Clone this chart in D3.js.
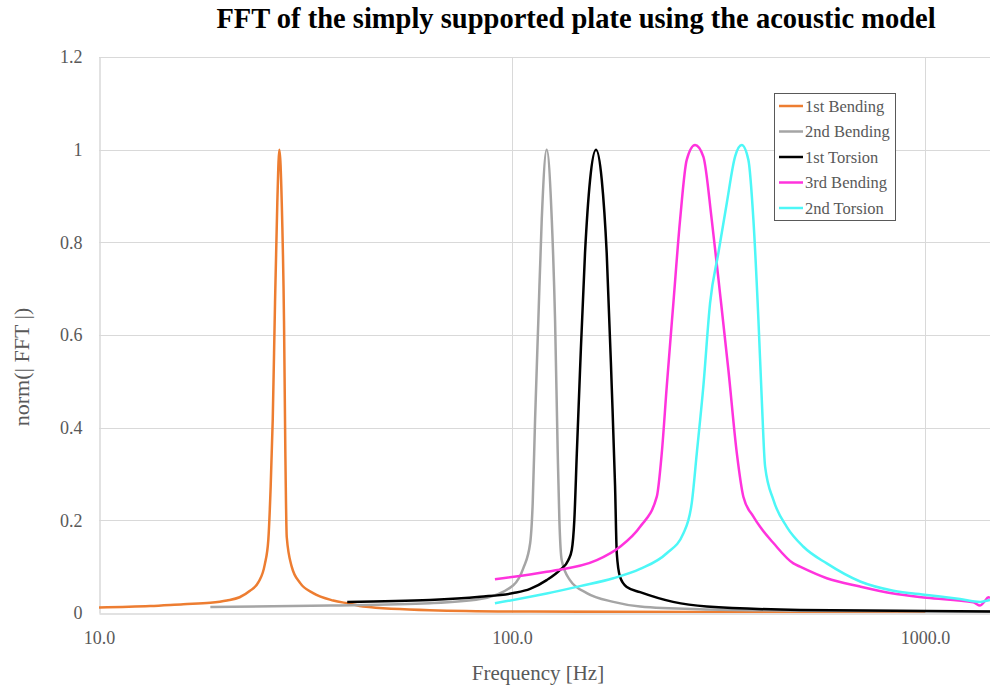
<!DOCTYPE html>
<html>
<head>
<meta charset="utf-8">
<script src="https://cdn.jsdelivr.net/npm/d3@7"></script>
<style>
  html, body { margin: 0; padding: 0; background: #fff; }
  svg { display: block; font-family: "Liberation Serif", "Times New Roman", serif; }
</style>
</head>
<body>
<div id="chart"></div>
<script>
// series: [frequency Hz, norm(|FFT|)]
var bending1 = [
  [10, 0.012], [13.3, 0.015], [16.0, 0.019], [18.6, 0.022], [20.4, 0.027],
  [21.9, 0.034], [23.2, 0.048], [24.3, 0.066], [25.2, 0.105], [25.7, 0.158],
  [26.04, 0.273], [26.34, 0.417], [26.68, 0.67], [27.02, 0.885], [27.33, 1.0],
  [27.7, 0.885], [28.05, 0.63], [28.26, 0.345], [28.48, 0.164], [29.28, 0.1],
  [30.67, 0.065], [33.0, 0.043], [36.9, 0.027], [40.5, 0.02], [43.6, 0.014],
  [63.3, 0.006], [110.6, 0.003], [285, 0.002], [1000, 0.001]
];
var bending2 = [
  [18.6, 0.013], [36.3, 0.016], [63.3, 0.021], [83.7, 0.03], [100.7, 0.06],
  [106.5, 0.097], [110.6, 0.15], [112.2, 0.237], [113.7, 0.417], [115.8, 0.633],
  [118.0, 0.849], [121.3, 1.0], [124.8, 0.849], [127.1, 0.633], [129.0, 0.345],
  [130.2, 0.2], [131.9, 0.114], [138.1, 0.071], [151.7, 0.043], [175.9, 0.024],
  [204.2, 0.014], [285.2, 0.008], [498, 0.005], [1436, 0.003]
];
var torsion1 = [
  [39.9, 0.024], [63.3, 0.028], [83.7, 0.035], [100.7, 0.043], [110.6, 0.052],
  [121.3, 0.071], [130.7, 0.093], [136.8, 0.114], [139.5, 0.136], [141.5, 0.2],
  [143.5, 0.345], [146.1, 0.525], [150.2, 0.777], [154.5, 0.935], [159.7, 1.0],
  [164.9, 0.935], [169.5, 0.777], [174.3, 0.49], [177.6, 0.273], [179.3, 0.129],
  [182.6, 0.078], [189.6, 0.056], [204.2, 0.045], [245.4, 0.024], [296, 0.014],
  [498, 0.0065], [1436, 0.003]
];
var bending3 = [
  [90.9, 0.073], [121.3, 0.089], [160.4, 0.114], [182.6, 0.143], [204.2, 0.186],
  [224.1, 0.251], [230.4, 0.345], [236.9, 0.489], [245.8, 0.669], [255.2, 0.849],
  [264.8, 0.978], [277.4, 1.01], [290.5, 0.985], [304.4, 0.849], [318.8, 0.69],
  [334.0, 0.525], [350.1, 0.345], [363.1, 0.251], [384.0, 0.208], [398.6, 0.186],
  [429.3, 0.151], [479.9, 0.107], [498, 0.1], [578.1, 0.075], [696.2, 0.057],
  [837.9, 0.042], [1009.5, 0.033], [1309, 0.023], [1359, 0.016], [1390, 0.024],
  [1423, 0.034], [1436, 0.032]
];
var torsion2 = [
  [90.9, 0.021], [121.3, 0.042], [146.1, 0.058], [175.9, 0.075], [204.2, 0.095],
  [236.9, 0.129], [260.0, 0.172], [272.3, 0.237], [280.1, 0.345], [290.5, 0.489],
  [301.6, 0.669], [315.9, 0.777], [331.1, 0.885], [346.7, 0.985], [359.8, 1.01],
  [373.4, 0.978], [384.0, 0.849], [394.9, 0.633], [402.4, 0.46], [409.9, 0.316],
  [429.3, 0.244], [462.5, 0.186], [507.5, 0.143], [578.1, 0.107], [696.2, 0.068],
  [837.9, 0.048], [1009.5, 0.039], [1215, 0.030], [1359, 0.024], [1436, 0.028]
];

var seriesNames = ["1st Bending", "2nd Bending", "1st Torsion", "3rd Bending", "2nd Torsion"];
var seriesColors = ["#ED7D31", "#A5A5A5", "#000000", "#FF33DD", "#4DF7F7"];
var seriesData = [bending1, bending2, torsion1, bending3, torsion2];

var xTicks = [10, 100, 1000];
var yTicks = [0, 0.2, 0.4, 0.6, 0.8, 1, 1.2];

(function() {
  'use strict';

  var width = 990;
  var height = 687;
  var left = 99, right = 990, top = 57, bottom = 613;
  var textColor = "#595959";
  var gridColor = "#D9D9D9";

  var x = d3.scaleLog()
    .domain([10, 1436])
    .range([left, right]);

  var y = d3.scaleLinear()
    .domain([0, 1.2])
    .range([bottom, top]);

  var svg = d3.select("#chart")
    .append("svg")
    .attr("width", width)
    .attr("height", height);

  svg.append("defs")
    .append("clipPath")
    .attr("id", "plot-clip")
    .append("rect")
    .attr("x", left)
    .attr("y", top - 10)
    .attr("width", right - left)
    .attr("height", bottom - top + 10);

  // horizontal gridlines
  svg.append("g")
    .selectAll("line")
    .data(yTicks.slice(1))
    .enter()
    .append("line")
    .attr("x1", left)
    .attr("x2", right)
    .attr("y1", function (d) { return Math.round(y(d)) + 0.5; })
    .attr("y2", function (d) { return Math.round(y(d)) + 0.5; })
    .attr("stroke", gridColor)
    .attr("stroke-width", 1);

  // vertical gridlines (major decades)
  svg.append("g")
    .selectAll("line")
    .data(xTicks.slice(1))
    .enter()
    .append("line")
    .attr("x1", function (d) { return Math.round(x(d)) + 0.5; })
    .attr("x2", function (d) { return Math.round(x(d)) + 0.5; })
    .attr("y1", top)
    .attr("y2", bottom)
    .attr("stroke", gridColor)
    .attr("stroke-width", 1);

  // axes
  var xAxis = d3.axisBottom(x)
    .tickValues(xTicks)
    .tickSize(0)
    .tickPadding(18)
    .tickFormat(d3.format(".1f"));

  var gx = svg.append("g")
    .attr("transform", "translate(0," + (bottom + 0.5) + ")")
    .call(xAxis);
  gx.select(".domain").attr("stroke", gridColor).attr("stroke-width", 1.5);
  gx.selectAll("text")
    .attr("fill", textColor)
    .style("font-size", "18px")
    .style("font-family", "Liberation Serif, Times New Roman, serif");

  var yAxis = d3.axisLeft(y)
    .tickValues(yTicks)
    .tickSize(0)
    .tickPadding(17)
    .tickFormat(function (d) { return d3.format("~g")(d); });

  var gy = svg.append("g")
    .attr("transform", "translate(" + (left + 0.5) + ",0)")
    .call(yAxis);
  gy.select(".domain").attr("stroke", gridColor).attr("stroke-width", 1.5);
  gy.selectAll("text")
    .attr("fill", textColor)
    .style("font-size", "18px")
    .style("font-family", "Liberation Serif, Times New Roman, serif");

  // lines
  var line = d3.line()
    .x(function (d) { return x(d[0]); })
    .y(function (d) { return y(d[1]); })
    .curve(d3.curveMonotoneX);

  svg.append("g")
    .attr("clip-path", "url(#plot-clip)")
    .selectAll("path")
    .data(seriesData)
    .enter()
    .append("path")
    .attr("d", line)
    .attr("fill", "none")
    .attr("stroke", function (d, i) { return seriesColors[i]; })
    .attr("stroke-width", 2.5)
    .attr("stroke-linejoin", "round");

  // title
  svg.append("text")
    .attr("x", 576)
    .attr("y", 28)
    .attr("text-anchor", "middle")
    .attr("fill", "#000")
    .style("font-size", "28.5px")
    .style("font-weight", "bold")
    .text("FFT of the simply supported plate using the acoustic model");

  // axis titles
  svg.append("text")
    .attr("x", 538)
    .attr("y", 680)
    .attr("text-anchor", "middle")
    .attr("fill", textColor)
    .style("font-size", "21px")
    .text("Frequency [Hz]");

  svg.append("text")
    .attr("transform", "translate(29,367) rotate(-90)")
    .attr("text-anchor", "middle")
    .attr("fill", textColor)
    .style("font-size", "22px")
    .text("norm(| FFT |)");

  // legend
  var legend = svg.append("g")
    .attr("transform", "translate(774,93)");

  legend.append("rect")
    .attr("x", 0.5)
    .attr("y", 0.5)
    .attr("width", 121)
    .attr("height", 127)
    .attr("fill", "#fff")
    .attr("stroke", "#595959")
    .attr("stroke-width", 1);

  var items = legend.selectAll("g.item")
    .data(seriesNames)
    .enter()
    .append("g")
    .attr("class", "item")
    .attr("transform", function (d, i) { return "translate(0," + (13 + i * 25.5) + ")"; });

  items.append("line")
    .attr("x1", 5)
    .attr("x2", 29)
    .attr("stroke", function (d, i) { return seriesColors[i]; })
    .attr("stroke-width", 2.5);

  items.append("text")
    .attr("x", 31)
    .attr("y", 5.5)
    .attr("fill", textColor)
    .style("font-size", "16.5px")
    .text(function (d) { return d; });
})();
</script>
</body>
</html>
